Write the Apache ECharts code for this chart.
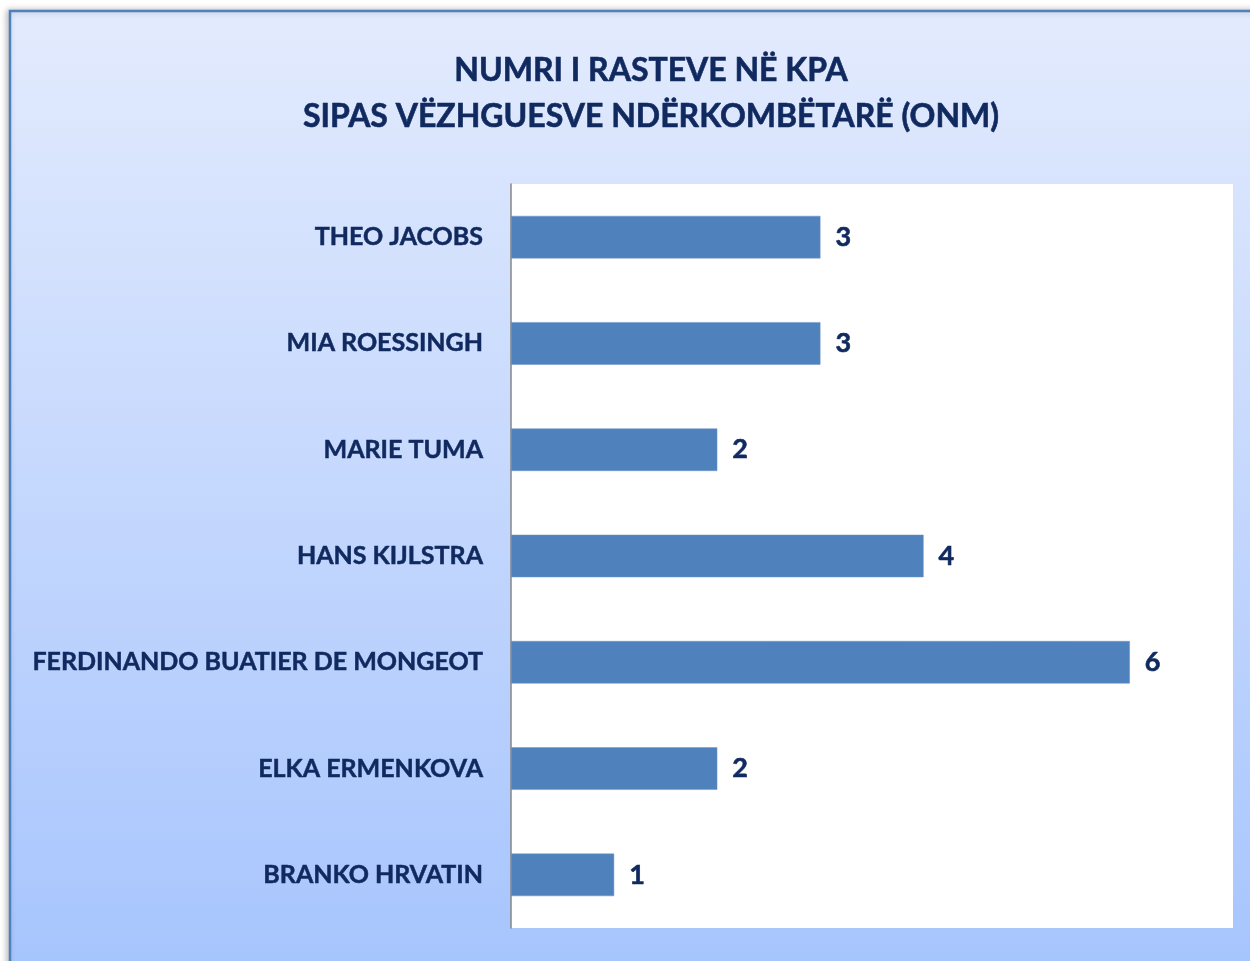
<!DOCTYPE html>
<html>
<head>
<meta charset="utf-8">
<script src="https://cdn.jsdelivr.net/npm/echarts@6/dist/echarts.min.js"></script>
<style>
html,body{margin:0;padding:0;background:#fff;}
#chart{width:1250px;height:961px;}
</style>
</head>
<body>
<div id="chart"></div>
<script>
const titleLines = ['NUMRI I RASTEVE NË KPA', 'SIPAS VËZHGUESVE NDËRKOMBËTARË (ONM)'];
const categories = ['THEO JACOBS', 'MIA ROESSINGH', 'MARIE TUMA', 'HANS KIJLSTRA', 'FERDINANDO BUATIER DE MONGEOT', 'ELKA ERMENKOVA', 'BRANKO HRVATIN'];
const values = [3, 3, 2, 4, 6, 2, 1];

const textColor = '#10295f';
const fontFam = 'Lato, "Open Sans", sans-serif';

const chart = echarts.init(document.getElementById('chart'));
chart.setOption({
  backgroundColor: '#ffffff',
  animation: false,
  graphic: [{
    type: 'rect',
    z: -10,
    shape: { x: 10, y: 11, width: 1300, height: 1000 },
    style: {
      fill: new echarts.graphic.LinearGradient(0, 0, 0, 1, [
        { offset: 0, color: '#e3ebfd' },
        { offset: 0.95, color: '#a7c5fd' },
        { offset: 1, color: '#a5c3fd' }
      ]),
      stroke: '#4f81bd',
      lineWidth: 2.5,
      shadowBlur: 6,
      shadowColor: 'rgba(0,0,0,0.25)',
      shadowOffsetX: -2,
      shadowOffsetY: 0
    },
    silent: true
  }],
  title: {
    text: titleLines.join('\n'),
    left: 646,
    top: 43,
    textAlign: 'center',
    textStyle: {
      color: textColor,
      fontFamily: fontFam,
      fontWeight: 'bold',
      fontSize: 32,
      lineHeight: 46,
      textBorderColor: textColor,
      textBorderWidth: 0.6
    }
  },
  grid: {
    left: 511, top: 184, width: 722, height: 744,
    show: true, backgroundColor: '#ffffff', borderWidth: 0,
    containLabel: false
  },
  xAxis: {
    type: 'value', min: 0, max: 7,
    show: false,
    splitLine: { show: false }
  },
  yAxis: {
    type: 'category',
    data: categories,
    inverse: true,
    axisLine: { show: true, lineStyle: { color: '#868686', width: 1.5 } },
    axisTick: { show: false },
    axisLabel: {
      color: textColor,
      fontFamily: fontFam,
      fontWeight: 'bold',
      fontSize: 25,
      margin: 28,
      textBorderColor: textColor,
      textBorderWidth: 0.5
    }
  },
  series: [{
    type: 'bar',
    data: values,
    barWidth: '40%',
    itemStyle: { color: '#4f81bd', borderColor: '#6f95c8', borderWidth: 0.5 },
    label: {
      show: true,
      position: 'right',
      distance: 15,
      color: textColor,
      fontFamily: fontFam,
      fontWeight: 'bold',
      fontSize: 27,
      textBorderColor: textColor,
      textBorderWidth: 0.6
    }
  }]
});
</script>
</body>
</html>
